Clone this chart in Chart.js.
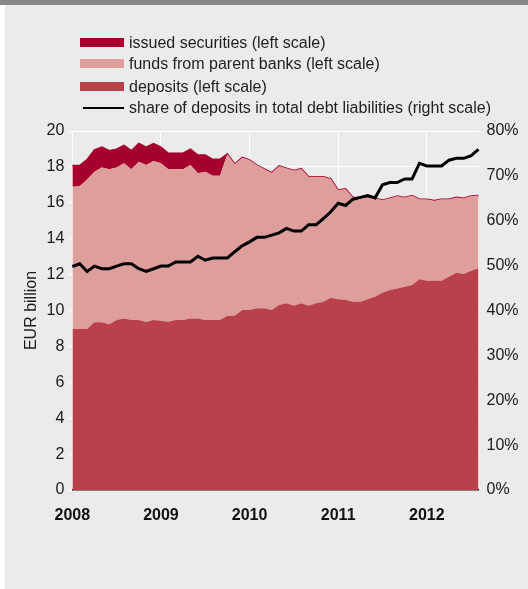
<!DOCTYPE html>
<html>
<head>
<meta charset="utf-8">
<script src="https://cdn.jsdelivr.net/npm/chart.js@4/dist/chart.umd.min.js"></script>
<style>
  html, body { margin: 0; padding: 0; background: #ffffff; }
  body { width: 528px; height: 589px; position: relative; overflow: hidden;
         font-family: "Liberation Sans", Arial, Helvetica, sans-serif; }
  #topbar { position: absolute; left: 0; top: 0; width: 528px; height: 5px; background: #878787; }
  #panel { position: absolute; left: 5px; top: 5px; width: 523px; height: 584px; background: #ebebeb; }
  #c { position: absolute; left: 0; top: 0; }
  .leg { position: absolute; left: 80px; height: 20px; display: flex; align-items: center;
         font-size: 16px; color: #1e1e1e; white-space: nowrap; }
  .sw { display: inline-block; width: 44px; height: 9px; margin-right: 5px; }
  .ln { display: inline-block; width: 41px; height: 2.5px; margin-left: 3px; margin-right: 5px; background: #000; }
</style>
</head>
<body>
<div id="topbar"></div>
<div id="panel"></div>
<canvas id="c" width="528" height="589"></canvas>
<div id="legend"></div>
<script>
// Monthly observations, January 2008 – August 2012
const months = [
  '2008-01','2008-02','2008-03','2008-04','2008-05','2008-06','2008-07','2008-08','2008-09','2008-10','2008-11','2008-12',
  '2009-01','2009-02','2009-03','2009-04','2009-05','2009-06','2009-07','2009-08','2009-09','2009-10','2009-11','2009-12',
  '2010-01','2010-02','2010-03','2010-04','2010-05','2010-06','2010-07','2010-08','2010-09','2010-10','2010-11','2010-12',
  '2011-01','2011-02','2011-03','2011-04','2011-05','2011-06','2011-07','2011-08','2011-09','2011-10','2011-11','2011-12',
  '2012-01','2012-02','2012-03','2012-04','2012-05','2012-06','2012-07','2012-08'
];

// EUR billion (left scale)
const deposits = [
  8.97, 8.97, 8.97, 9.34, 9.34, 9.23, 9.47, 9.56, 9.47, 9.47, 9.36, 9.47,
  9.43, 9.38, 9.47, 9.47, 9.56, 9.56, 9.47, 9.47, 9.47, 9.71, 9.71, 10.03,
  10.03, 10.12, 10.12, 10.03, 10.30, 10.40, 10.27, 10.40, 10.27, 10.40, 10.49, 10.71,
  10.62, 10.60, 10.49, 10.49, 10.62, 10.77, 10.99, 11.14, 11.23, 11.33, 11.42, 11.74,
  11.66, 11.66, 11.66, 11.88, 12.10, 12.03, 12.22, 12.35
];
const fundsFromParents = [
  7.93, 7.95, 8.33, 8.39, 8.62, 8.64, 8.49, 8.64, 8.40, 8.82, 8.74, 8.86,
  8.77, 8.49, 8.40, 8.40, 8.54, 8.08, 8.26, 8.04, 8.04, 9.01, 8.45, 8.50,
  8.35, 7.98, 7.76, 7.65, 7.75, 7.52, 7.53, 7.50, 7.18, 7.05, 6.96, 6.62,
  6.09, 6.17, 5.81, 5.76, 5.68, 5.48, 5.17, 5.11, 5.15, 4.97, 4.98, 4.46,
  4.54, 4.46, 4.54, 4.32, 4.20, 4.22, 4.16, 4.05
];
const issuedSecurities = [
  1.17, 1.15, 1.10, 1.21, 1.14, 1.03, 1.02, 1.00, 1.03, 1.01, 1.00, 0.97,
  0.90, 0.89, 0.89, 0.89, 0.88, 1.02, 0.93, 0.91, 0.91, 0, 0, 0,
  0, 0, 0, 0, 0, 0, 0, 0, 0, 0, 0, 0,
  0, 0, 0, 0, 0, 0, 0, 0, 0, 0, 0, 0,
  0, 0, 0, 0, 0, 0, 0, 0
];
// per cent (right scale)
const depositShare = [
  49.8, 50.4, 48.7, 49.9, 49.3, 49.3, 49.9, 50.4, 50.4, 49.3, 48.7, 49.3,
  49.9, 49.9, 50.8, 50.8, 50.8, 52.1, 51.2, 51.7, 51.7, 51.7, 53.1, 54.4,
  55.3, 56.3, 56.3, 56.8, 57.3, 58.3, 57.7, 57.7, 59.1, 59.1, 60.5, 62.0,
  63.9, 63.4, 64.8, 65.2, 65.6, 65.1, 68.0, 68.5, 68.5, 69.3, 69.3, 72.8,
  72.2, 72.2, 72.2, 73.5, 73.9, 73.9, 74.5, 75.9
];

const leftTicks = { min: 0, max: 20, step: 2 };
const rightTicks = { min: 0, max: 80, step: 10 };

const seriesLabels = [
  'issued securities (left scale)',
  'funds from parent banks (left scale)',
  'deposits (left scale)',
  'share of deposits in total debt liabilities (right scale)'
];
const colSecurities = '#a6002e';
const colFunds = '#de9e9c';
const colDeposits = '#ba414b';

// HTML legend
const legendTops = [32.5, 53.8, 76.8, 98];
const legendSw = [colSecurities, colFunds, colDeposits, null];
const legendEl = document.getElementById('legend');
seriesLabels.forEach((lab, i) => {
  const row = document.createElement('div');
  row.className = 'leg';
  row.style.top = legendTops[i] + 'px';
  const sw = document.createElement('span');
  if (legendSw[i]) { sw.className = 'sw'; sw.style.background = legendSw[i]; }
  else { sw.className = 'ln'; }
  row.appendChild(sw);
  const tx = document.createElement('span');
  tx.textContent = lab;
  row.appendChild(tx);
  legendEl.appendChild(row);
});

const FONT = '"Liberation Sans", Arial, Helvetica, sans-serif';
Chart.defaults.font.family = FONT;
Chart.defaults.color = '#1a1a1a';

new Chart(document.getElementById('c'), {
  type: 'line',
  data: {
    labels: months,
    datasets: [
      {
        label: seriesLabels[3], data: depositShare, yAxisID: 'y2',
        borderColor: '#000', borderWidth: 3, fill: false, pointRadius: 0,
        borderJoinStyle: 'miter'
      },
      {
        label: seriesLabels[2], data: deposits, yAxisID: 'y', stack: 'a',
        borderColor: 'transparent', borderWidth: 0, backgroundColor: colDeposits,
        fill: 'origin', pointRadius: 0
      },
      {
        label: seriesLabels[1], data: fundsFromParents, yAxisID: 'y', stack: 'a',
        borderColor: 'transparent', borderWidth: 0, backgroundColor: colFunds,
        fill: '-1', pointRadius: 0
      },
      {
        label: seriesLabels[0], data: issuedSecurities, yAxisID: 'y', stack: 'a',
        borderColor: colSecurities, borderWidth: 1.6, backgroundColor: colSecurities,
        fill: '-1', pointRadius: 0
      }
    ]
  },
  options: {
    responsive: false,
    animation: false,
    devicePixelRatio: 1,
    layout: { padding: { top: 131, left: 0, right: 0, bottom: 0 } },
    elements: { line: { tension: 0 }, point: { radius: 0 } },
    plugins: { legend: { display: false }, tooltip: { enabled: false } },
    scales: {
      x: {
        type: 'category',
        offset: false,
        afterBuildTicks: (a) => { a.ticks = a.ticks.filter(t => months[t.value].endsWith('-01')); },
        ticks: {
          autoSkip: false, maxRotation: 0,
          callback: (v) => months[v].slice(0, 4),
          font: { size: 16, weight: 'bold' }, color: '#111', padding: 16
        },
        grid: { color: '#ffffff', lineWidth: 1, drawTicks: false },
        border: { color: '#000', width: 1.6 },
        afterFit: (s) => { s.height = 99; }
      },
      y: {
        position: 'left', stacked: true,
        min: leftTicks.min, max: leftTicks.max,
        ticks: { stepSize: leftTicks.step, font: { size: 16 }, color: '#1a1a1a', padding: 4 },
        grid: { color: '#ffffff', lineWidth: 1, tickLength: 4 },
        border: { display: false },
        title: { display: true, text: 'EUR billion', font: { size: 16 }, color: '#1a1a1a', padding: { top: 22.4, bottom: 0 } },
        afterFit: (s) => { s.width = 72.3; }
      },
      y2: {
        position: 'right',
        min: rightTicks.min, max: rightTicks.max,
        ticks: { stepSize: rightTicks.step, callback: (v) => v + '%', font: { size: 16 }, color: '#1a1a1a', padding: 8 },
        grid: { display: false, drawTicks: false },
        border: { display: false },
        afterFit: (s) => { s.width = 49.5; }
      }
    }
  }
});
</script>
</body>
</html>
